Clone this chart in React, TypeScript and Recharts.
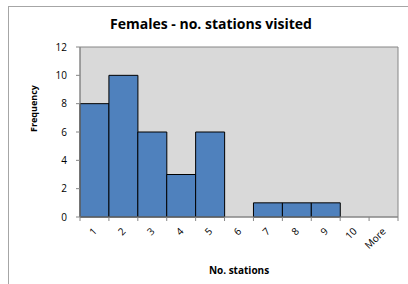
import { Bar, BarChart, ReferenceArea, XAxis, YAxis } from "recharts";

const categories = ["1", "2", "3", "4", "5", "6", "7", "8", "9", "10", "More"];
const frequency = [8, 10, 6, 3, 6, 0, 1, 1, 1, 0, 0];
const yTicks = [0, 2, 4, 6, 8, 10, 12];

const data = categories.map((name, i) => ({ name, value: frequency[i] }));

const FONT = "'Open Sans', 'DejaVu Sans', sans-serif";
const AXIS_GREY = "#868686";

// tick marks sit between the touching bars, like Excel's histogram
const RotatedTick = ({ x, y, payload, index, width, visibleTicksCount }: any) => {
    const count = visibleTicksCount || categories.length;
    const band = width ? width / count : 28.9;
    const tx = x + 3;
    const ty = y + 15;
    return (
        <g>
            <line x1={x - band / 2} x2={x - band / 2} y1={y} y2={y + 4} stroke={AXIS_GREY} />
            {index === count - 1 && (
                <line x1={x + band / 2} x2={x + band / 2} y1={y} y2={y + 4} stroke={AXIS_GREY} />
            )}
            <text
                x={tx}
                y={ty}
                transform={`rotate(-45, ${tx}, ${ty})`}
                textAnchor="end"
                fontSize={10}
                fontFamily={FONT}
                fill="#000"
            >
                {payload.value}
            </text>
        </g>
    );
};

const App = () => {
    return (
        <div style={{ position: "relative", width: 408, height: 284, overflow: "hidden", background: "#fff" }}>
            <style>{`body{margin:0;overflow:hidden}`}</style>
            <div
                style={{
                    position: "absolute",
                    left: 8,
                    top: 6,
                    width: 400,
                    height: 278,
                    borderLeft: "1px solid #a6a6a6",
                    borderTop: "1px solid #a6a6a6",
                }}
            />
            <div
                style={{
                    position: "absolute",
                    left: 0,
                    width: 422,
                    top: 14,
                    textAlign: "center",
                    fontFamily: FONT,
                    fontWeight: 700,
                    fontSize: 14,
                    lineHeight: "20px",
                }}
            >
                Females - no. stations visited
            </div>
            <div style={{ position: "absolute", left: 0, top: 0 }}>
                <BarChart
                    width={408}
                    height={284}
                    data={data}
                    barCategoryGap={0}
                    margin={{ top: 47, right: 10, left: 0, bottom: 0 }}
                >
                    <ReferenceArea y1={0} y2={12} fill="#D9D9D9" fillOpacity={1} stroke={AXIS_GREY} />
                    <XAxis
                        dataKey="name"
                        height={67}
                        tick={<RotatedTick />}
                        tickLine={false}
                        tickSize={0}
                        tickMargin={0}
                        stroke={AXIS_GREY}
                        interval={0}
                        label={{
                            value: "No. stations",
                            position: "insideBottom",
                            offset: 10,
                            fontSize: 10,
                            fontWeight: 700,
                            fontFamily: FONT,
                            fill: "#000",
                        }}
                    />
                    <YAxis
                        width={80}
                        domain={[0, 12]}
                        ticks={yTicks}
                        tickSize={4}
                        tickMargin={9}
                        stroke={AXIS_GREY}
                        tick={{ fontSize: 10, fontFamily: FONT, fill: "#000" }}
                        label={{
                            value: "Frequency",
                            angle: -90,
                            position: "insideLeft",
                            offset: 34,
                            fontSize: 9,
                            fontWeight: 700,
                            fontFamily: FONT,
                            fill: "#000",
                        }}
                    />
                    <Bar
                        dataKey="value"
                        fill="#4F81BD"
                        stroke="#000"
                        strokeWidth={1}
                        isAnimationActive={false}
                    />
                </BarChart>
            </div>
        </div>
    );
};

export default App;
